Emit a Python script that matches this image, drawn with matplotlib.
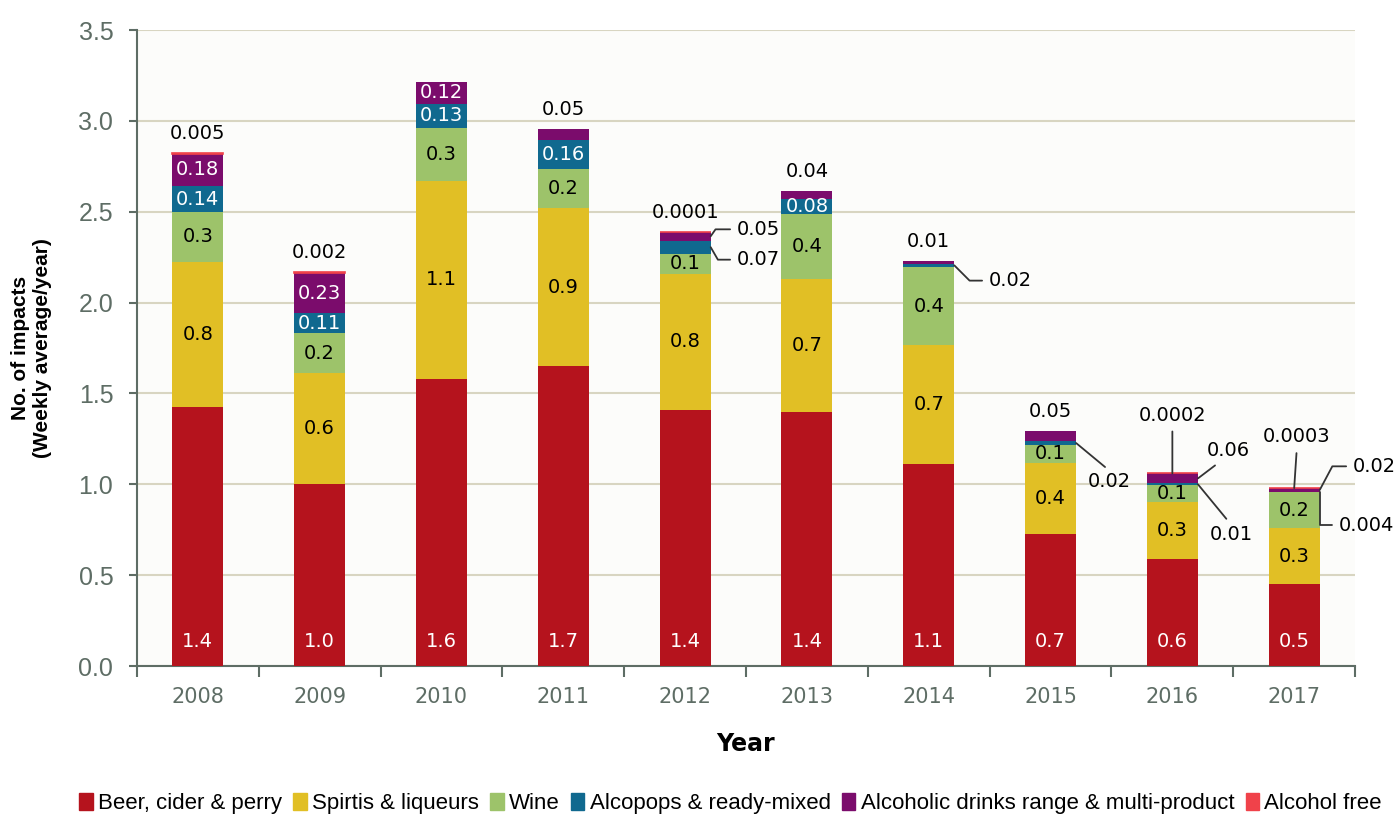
import matplotlib as mpl
mpl.use('Agg')
import matplotlib.pyplot as plt
from matplotlib.patches import Patch
import numpy as np

years = ['2008', '2009', '2010', '2011', '2012', '2013', '2014', '2015', '2016', '2017']

beer = [1.425, 1.00, 1.58, 1.65, 1.41, 1.40, 1.11, 0.725, 0.59, 0.45]
spirits = [0.80, 0.61, 1.09, 0.87, 0.75, 0.73, 0.655, 0.395, 0.315, 0.31]
wine = [0.275, 0.22, 0.29, 0.215, 0.11, 0.36, 0.43, 0.097, 0.09, 0.195]
alcopops = [0.14, 0.11, 0.135, 0.16, 0.07, 0.08, 0.02, 0.02, 0.01, 0.004]
multi = [0.18, 0.225, 0.12, 0.06, 0.05, 0.045, 0.015, 0.055, 0.055, 0.02]
alcohol_free = [0.005, 0.002, 0, 0, 0.0001, 0, 0, 0, 0.0002, 0.0003]

# labels as printed on the chart (rounded)
beer_lbl = ['1.4', '1.0', '1.6', '1.7', '1.4', '1.4', '1.1', '0.7', '0.6', '0.5']
spirits_lbl = ['0.8', '0.6', '1.1', '0.9', '0.8', '0.7', '0.7', '0.4', '0.3', '0.3']
wine_lbl = ['0.3', '0.2', '0.3', '0.2', '0.1', '0.4', '0.4', '0.1', '0.1', '0.2']
alcopops_lbl = ['0.14', '0.11', '0.13', '0.16', '0.07', '0.08', '0.02', '0.02', '0.01', '0.004']
multi_lbl = ['0.18', '0.23', '0.12', '0.05', '0.05', '0.04', '0.01', '0.05', '0.06', '0.02']
af_lbl = ['0.005', '0.002', '', '', '0.0001', '', '', '', '0.0002', '0.0003']

names = ['Beer, cider & perry', 'Spirtis & liqueurs', 'Wine', 'Alcopops & ready-mixed',
         'Alcoholic drinks range & multi-product', 'Alcohol free']
colors = ['#B5131D', '#E1BF25', '#9DC36A', '#10698F', '#7B0C6C', '#F0424A']
series = [beer, spirits, wine, alcopops, multi, alcohol_free]
labels = [beer_lbl, spirits_lbl, wine_lbl, alcopops_lbl, multi_lbl, af_lbl]

# how each label is placed: b = inside base, c = centre, t = above bar, a = callout
modes = [
    'bbbbbbbbbb',
    'cccccccccc',
    'cccccccccc',
    'ccccacaaaa',
    'ccctatttaa',
    'tt--t---aa',
]

# callouts: (series, year) -> (offset pts, ha, relpos, connectionstyle, anchor side)
callouts = {
    (3, 4): ((19, -9), 'left', (0, 0.5), 'angle,angleA=0,angleB=-60,rad=0', 'r'),
    (4, 4): ((19, 5), 'left', (0, 0.5), 'angle,angleA=0,angleB=55,rad=0', 'r'),
    (3, 6): ((25, -11), 'left', (0, 0.5), 'angle,angleA=0,angleB=-45,rad=0', 'r'),
    (3, 7): ((24, -28), 'center', (0.55, 1), 'arc3', 'r'),
    (4, 8): ((22, 20), 'center', (0.35, 0), 'arc3', 'r'),
    (3, 8): ((24, -36), 'center', (0.5, 1), 'arc3', 'r'),
    (5, 8): ((0, 42), 'center', (0.5, 0), 'arc3', 't'),
    (5, 9): ((2, 37), 'center', (0.5, 0), 'arc3', 't'),
    (4, 9): ((24, 17), 'left', (0, 0.5), 'angle,angleA=0,angleB=62,rad=0', 'r'),
    (3, 9): ((14, -24), 'left', (0, 0.5), 'angle,angleA=0,angleB=90,rad=0', 'r'),
}

axis_col = '#5E6D65'
sans = ['Liberation Sans', 'DejaVu Sans']

fig = plt.figure(figsize=(13.97, 8.16), dpi=100)
ax = fig.add_axes([0.098, 0.1838, 0.872, 0.7794])
ax.set_facecolor('#FCFCFA')

x = np.arange(len(years))
w = 0.42
fs = 14
bottom = np.zeros(len(years))
for k, vals in enumerate(series):
    vals = np.array(vals, dtype=float)
    if k == 5:
        lw = [1.2 if v > 0 else 0 for v in vals]
        ax.bar(x, vals, w, bottom=bottom, color=colors[k], edgecolor=colors[k], linewidth=lw, zorder=3)
    else:
        ax.bar(x, vals, w, bottom=bottom, color=colors[k], linewidth=0, zorder=3)
    top = bottom + vals
    for i in range(len(years)):
        m = modes[k][i]
        txt = labels[k][i]
        white = k in (0, 3, 4)
        if m == 'b':
            ax.annotate(txt, (x[i], bottom[i]), xytext=(0, 18), textcoords='offset points',
                        ha='center', va='center', fontsize=fs, color='white', zorder=5)
        elif m == 'c':
            ax.text(x[i], bottom[i] + vals[i] / 2, txt, ha='center', va='center', fontsize=fs,
                    color='white' if white else 'black', zorder=5)
        elif m == 't':
            total = sum(s[i] for s in series)
            ax.annotate(txt, (x[i], total), xytext=(0, 14), textcoords='offset points',
                        ha='center', va='center', fontsize=fs, color='black', zorder=5)
        elif m == 'a':
            off, ha, rel, cs, side = callouts[(k, i)]
            if side == 'r':
                xy = (x[i] + w / 2, bottom[i] + vals[i] / 2)
            else:
                xy = (x[i], top[i])
            ax.annotate(txt, xy, xytext=off, textcoords='offset points', ha=ha, va='center',
                        fontsize=fs, color='black', zorder=5,
                        arrowprops=dict(arrowstyle='-', color='#333333', lw=1.3, relpos=rel,
                                        connectionstyle=cs, shrinkA=3, shrinkB=0))
    bottom = top

ax.set_xlim(-0.5, len(years) - 0.5)
ax.set_ylim(0, 3.5)
ax.set_yticks(np.arange(0, 3.51, 0.5))
ax.set_yticklabels(['%.1f' % v for v in np.arange(0, 3.51, 0.5)], fontsize=18,
                   color=axis_col, family=sans)
ax.set_xticks(x)
ax.set_xticklabels(years, fontsize=15, color=axis_col)
ax.set_xticks(np.arange(-0.5, len(years), 1), minor=True)
ax.tick_params(axis='x', which='major', length=0, pad=15)
ax.tick_params(axis='x', which='minor', length=8, width=1.5, color=axis_col)
ax.tick_params(axis='y', length=6, width=1.5, color=axis_col, pad=11)
ax.grid(axis='y', color='#D8D5C1', linewidth=1.5, zorder=0)
ax.set_axisbelow(True)
for s in ['top', 'right']:
    ax.spines[s].set_visible(False)
for s in ['left', 'bottom']:
    ax.spines[s].set_color(axis_col)
    ax.spines[s].set_linewidth(1.5)

ax.set_xlabel('Year', fontsize=17, fontweight='bold', labelpad=18)
ax.set_ylabel('No. of impacts\n(Weekly average/year)', fontsize=15,
              fontweight='bold', family=sans)
ax.yaxis.set_label_coords(-0.07, 0.5)

handles = [Patch(color=c, label=n) for c, n in zip(colors, names)]
fig.legend(handles=handles, loc='lower center', bbox_to_anchor=(0.523, -0.022), ncol=6,
           frameon=False, prop={'family': sans, 'size': 16},
           handlelength=0.6, handleheight=0.8, handletextpad=0.25, columnspacing=0.5)

plt.savefig('out.png', dpi=100, facecolor='white')
